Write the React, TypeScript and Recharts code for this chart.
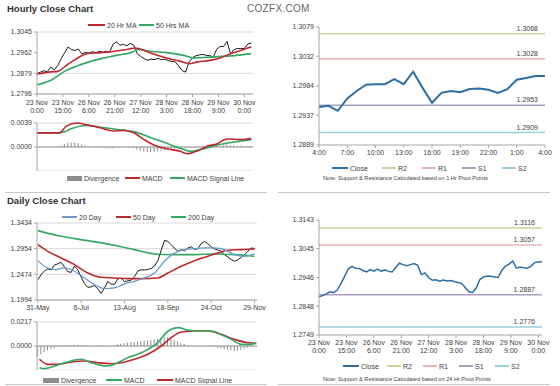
import React from 'react'
import { ComposedChart, Line, Bar, XAxis, YAxis, CartesianGrid, ReferenceLine } from 'recharts'

const FONT = '"Liberation Sans", Arial, sans-serif'
const RED = '#c0282f'
const GREEN = '#34a862'
const BLUE = '#6c9bc8'
const CLOSE_BLUE = '#2e6ea6'
const AXIS = '#a6a6a6'
const GRID = '#d9d9d9'
const TXT = '#404040'

// hourly panel (2h steps from 23 Nov 0:00)
const hourlyClose = [
  1.2878, 1.2884, 1.2889, 1.2886, 1.2904, 1.2893, 1.291, 1.2938, 1.2962, 1.2985,
  1.2974, 1.2971, 1.2976, 1.2957, 1.2963, 1.296, 1.2966, 1.2962, 1.2967, 1.2964,
  1.2968, 1.2963, 1.2996, 1.3005, 1.2992, 1.2995, 1.299, 1.2999, 1.2992, 1.2958,
  1.2947, 1.2938, 1.2931, 1.2936, 1.2934, 1.2939, 1.2934, 1.2936, 1.293, 1.2927,
  1.2925, 1.2908, 1.289, 1.2884, 1.2925, 1.2941, 1.295, 1.2953, 1.2955, 1.2951,
  1.295, 1.2944, 1.2976, 1.2987, 1.2987, 1.3007, 1.2957, 1.2974, 1.2979, 1.2978,
  1.2979, 1.2997, 1.3
]
const ma20Hours = [0, 8, 12, 17, 23, 29, 37, 44, 52, 57, 62, 67, 75, 83, 88, 93, 100, 106, 112, 118, 124]
const ma20HourValues = [1.2876, 1.2885, 1.2887, 1.2911, 1.2938, 1.2958, 1.2962, 1.2967, 1.2975, 1.2981, 1.2971, 1.2958, 1.2941, 1.2927, 1.2918, 1.2925, 1.2931, 1.2941, 1.2958, 1.2971, 1.2985]
const ma50Hours = [0, 8, 17, 27, 37, 46, 56, 58, 66, 75, 85, 91, 102, 112, 124]
const ma50HourValues = [1.2833, 1.2851, 1.2891, 1.2918, 1.2938, 1.2951, 1.2967, 1.2975, 1.2967, 1.2962, 1.2951, 1.2941, 1.2945, 1.2949, 1.2958]

const hourlyDivergence = [
  0, 0, 0, 0, 0, 0, 0.0001,
  0.0002, 0.0005, 0.0006, 0.0007, 0.0007, 0.0006, 0.0004, 0.0002, 0.0001,
  0, -0.0001, -0.0001, -0.0001, -0.0002, -0.0002, -0.0002, -0.0001, -0.0001, -0.0001, 0, -0.0001, -0.0002,
  -0.0004, -0.0006, -0.0007, -0.0008, -0.0008, -0.0008, -0.0007, -0.0006, -0.0005, -0.0004, -0.0003, -0.0003, -0.0003, -0.0003, -0.0002, -0.0001,
  0, 0, 0.0001, 0.0001, 0.0001, 0.0001, 0.0001, 0.0002, 0.0002, 0.0003, 0.0004, 0.0003, 0.0003, 0.0002, 0.0002, 0.0001, 0.0001, 0.0001
]
const macdHours = [0, 13, 17, 23, 29, 37, 44, 50, 56, 62, 67, 75, 83, 87, 93, 98, 104, 110, 118, 124]
const macdHourValues = [0.0023, 0.0023, 0.0034, 0.0039, 0.0036, 0.0031, 0.0026, 0.0027, 0.0023, 0.0012, 0.0004, -0.0003, -0.0007, -0.0011, -0.0006, 0.0001, 0.0005, 0.0013, 0.0012, 0.0014]
const signalHours = [0, 13, 21, 29, 37, 48, 56, 66, 75, 85, 89, 95, 104, 114, 124]
const signalHourValues = [0.0023, 0.0023, 0.0031, 0.0035, 0.0032, 0.0028, 0.0025, 0.0015, 0.0006, -0.0004, -0.0007, -0.0004, 0.0003, 0.0008, 0.0012]

const hourTicks = [0, 15, 30, 45, 60, 75, 90, 105, 120]
const hourTickDays = ['23 Nov', '23 Nov', '26 Nov', '26 Nov', '27 Nov', '28 Nov', '28 Nov', '29 Nov', '30 Nov']
const hourTickTimes = ['0:00', '15:00', '6:00', '21:00', '12:00', '3:00', '18:00', '9:00', '0:00']

// 1 hr pivot panel (29 Nov 4:00 -> 30 Nov 4:00)
const pivotHourClose = [1.295, 1.2952, 1.2944, 1.2964, 1.2976, 1.2986, 1.2987, 1.2987, 1.2995, 1.2987, 1.3007, 1.2981, 1.2957, 1.2973, 1.2976, 1.2974, 1.2979, 1.298, 1.2978, 1.2973, 1.2979, 1.2994, 1.2997, 1.3, 1.3]
const pivotHourTicks = [0, 3, 6, 9, 12, 15, 18, 21, 24]
const pivotHourLabels = ['4:00', '7:00', '10:00', '13:00', '16:00', '19:00', '22:00', '1:00', '4:00']
const pivotHourLevels = [1.3068, 1.3028, 1.2953, 1.2909]

// daily panel (2 trading-day steps from 31 May)
const dailyClose = [
  1.2375, 1.247, 1.254, 1.2575, 1.256, 1.265, 1.267, 1.27, 1.261, 1.2525,
  1.251, 1.263, 1.256, 1.242, 1.23, 1.223, 1.224, 1.2265, 1.22, 1.2115,
  1.222, 1.234, 1.229, 1.229, 1.239, 1.24, 1.234, 1.235, 1.2365, 1.243,
  1.2535, 1.256, 1.2555, 1.2565, 1.2585, 1.263, 1.273, 1.292, 1.311, 1.309,
  1.303, 1.296, 1.2905, 1.2935, 1.2915, 1.2965, 1.299, 1.294, 1.2955, 1.305,
  1.309, 1.3045, 1.299, 1.295, 1.293, 1.2905, 1.284, 1.28, 1.275, 1.272,
  1.2745, 1.279, 1.284, 1.2905, 1.2965, 1.296
]
const ma20Days = [0, 4, 10, 16, 22, 28, 34, 40, 46, 52, 58, 64, 70, 76, 82, 88, 94, 100, 106, 112, 118, 124, 130]
const ma20DayValues = [1.273, 1.2624, 1.2562, 1.2593, 1.2531, 1.2406, 1.2281, 1.2207, 1.2219, 1.2294, 1.2344, 1.2406, 1.2499, 1.2718, 1.2873, 1.2936, 1.2954, 1.2967, 1.2967, 1.2936, 1.2842, 1.2811, 1.2855]
const ma50Days = [0, 6, 14, 22, 30, 38, 46, 54, 62, 72, 78, 86, 94, 102, 108, 114, 122, 130]
const ma50DayValues = [1.3029, 1.2904, 1.278, 1.2655, 1.2499, 1.2418, 1.2406, 1.2394, 1.2394, 1.2406, 1.2499, 1.2624, 1.273, 1.2811, 1.2873, 1.2923, 1.2936, 1.2948]
const ma200Days = [0, 14, 30, 46, 58, 70, 82, 94, 106, 118, 130]
const ma200DayValues = [1.3291, 1.3185, 1.3104, 1.3017, 1.2936, 1.2855, 1.2842, 1.2842, 1.2855, 1.2842, 1.2811]

const dailyDivergence = [
  -0.009, -0.0075, -0.0055, -0.004, -0.0025, -0.0015, -0.0008, -0.0002, 0.0005, 0.0008,
  0.001, 0.0012, 0.001, 0.0008, 0.0004, 0.0002, -0.0003, -0.0005, -0.0006, -0.0004,
  -0.0002, 0, 0.0005, 0.001, 0.0015, 0.002, 0.0025, 0.003, 0.0033, 0.0036,
  0.004, 0.0045, 0.0048, 0.005, 0.0055, 0.006, 0.0065, 0.0075, 0.0085, 0.008,
  0.007, 0.0055, 0.004, 0.0028, 0.0018, 0.001, 0.0005, 0.0002, 0, 0,
  -0.0002, -0.0004, -0.0006, -0.001, -0.0015, -0.002, -0.0028, -0.0035, -0.004, -0.0045,
  -0.0042, -0.0035, -0.0025, -0.0015, -0.0008, 0.0003
]
const macdDays = [1, 4, 10, 16, 20, 26, 32, 38, 42, 50, 54, 60, 66, 72, 76, 80, 84, 90, 96, 104, 110, 116, 122, 128, 131]
const macdDayValues = [-0.0196, -0.0205, -0.0181, -0.0151, -0.0135, -0.012, -0.0151, -0.0175, -0.0181, -0.0135, -0.0105, -0.0075, -0.003, 0.003, 0.0105, 0.0151, 0.0166, 0.0144, 0.0135, 0.0135, 0.0105, 0.006, 0.0015, 0.0015, 0.003]
const signalDays = [1, 6, 12, 20, 28, 36, 44, 50, 58, 66, 74, 80, 86, 94, 102, 110, 118, 126, 131]
const signalDayValues = [-0.012, -0.0166, -0.0166, -0.0144, -0.0135, -0.0151, -0.016, -0.0151, -0.012, -0.0075, 0, 0.0075, 0.0126, 0.0135, 0.0135, 0.0105, 0.006, 0.003, 0.0024]

const dayTicks = [0, 26, 52, 78, 104, 130]
const dayTickLabels = ['31-May', '6-Jul', '13-Aug', '18-Sep', '24-Oct', '29-Nov']

// 24 hr pivot panel (hourly, 2h steps from 23 Nov 0:00)
const pivotDayClose = [
  1.288, 1.2884, 1.289, 1.2897, 1.2894, 1.2903, 1.2925, 1.295, 1.2975, 1.2984,
  1.2978, 1.2977, 1.297, 1.2965, 1.2973, 1.2968, 1.2975, 1.2968, 1.2972, 1.2967,
  1.2965, 1.298, 1.2995, 1.299, 1.2986, 1.299, 1.2994, 1.2988, 1.2956, 1.2962,
  1.2945, 1.2937, 1.2938, 1.2933, 1.2937, 1.2934, 1.2936, 1.2932, 1.2929, 1.2926,
  1.2912, 1.2897, 1.2895, 1.291, 1.2939, 1.2948, 1.2951, 1.295, 1.2948, 1.2946,
  1.297, 1.2985, 1.2992, 1.3003, 1.2978, 1.2982, 1.2979, 1.2978, 1.2985, 1.2997,
  1.2999, 1.3
]
const pivotDayLevels = [1.3116, 1.3057, 1.2887, 1.2776]

const levelNames = ['R2', 'R1', 'S1', 'S2']
const levelColors = ['#c8d59b', '#e3b9b7', '#aa9fbf', '#9dd0dd']

const pairs = (xs: number[], ys: number[], k: string) => xs.map((x, i) => ({ x, [k]: ys[i] }))
const fmt4 = (v: number) => v.toFixed(4)
const tickStyle = { fontSize: 7, fill: TXT, fontFamily: FONT }

const TwoLineTick = (props: any) => {
  const { x, y, payload, days, times, ticks } = props
  const i = ticks.indexOf(payload.value)
  return (
    <g>
      <text x={x} y={y} dy={5.5} textAnchor="middle" {...tickStyle}>{days[i]}</text>
      <text x={x} y={y} dy={13.5} textAnchor="middle" {...tickStyle}>{times[i]}</text>
    </g>
  )
}

const levelLabel = (text: string) => (props: any) => {
  const vb = props.viewBox
  return (
    <text x={vb.x + vb.width - 7} y={vb.y - 3} textAnchor="end" {...tickStyle}>{text}</text>
  )
}

function LegendItem({ x, y, color, label, box, w }: { x: number; y: number; color: string; label: string; box?: boolean; w: number }) {
  return (
    <div style={{ position: 'absolute', left: x, top: y - 5, height: 10, display: 'flex', alignItems: 'center', fontSize: 7, color: TXT, fontFamily: FONT, whiteSpace: 'nowrap' }}>
      <span style={{ display: 'inline-block', width: w, height: box ? 5 : 2, background: color, marginRight: 2 }} />
      {label}
    </div>
  )
}

function Rule({ x, y, w }: { x: number; y: number; w: number }) {
  return <div style={{ position: 'absolute', left: x, top: y, width: w, height: 1, background: '#c8c8c8' }} />
}

function Place({ x, y, children }: { x: number; y: number; children: React.ReactNode }) {
  return <div style={{ position: 'absolute', left: x, top: y }}>{children}</div>
}

export default function App() {
  const hourlyData = hourlyClose.map((close, i) => ({ x: i * 2, close }))
  const hourlyDivData = hourlyDivergence.map((div, i) => ({ x: i * 2, div }))
  const pivotHourData = pivotHourClose.map((close, i) => ({ x: i, close }))
  const dailyData = dailyClose.map((close, i) => ({ x: i * 2, close }))
  const dailyDivData = dailyDivergence.map((div, i) => ({ x: i * 2, div }))
  const pivotDayData = pivotDayClose.map((close, i) => ({ x: i * 2, close }))

  return (
    <div style={{ position: 'fixed', left: 0, top: 0, width: 560, height: 386, background: '#fff', fontFamily: FONT, overflow: 'hidden' }}>
      <div style={{ position: 'absolute', left: 7, top: 3, fontSize: 9.5, fontWeight: 'bold', color: '#333' }}>Hourly Close Chart</div>
      <div style={{ position: 'absolute', left: 247, top: 3, fontSize: 10, color: '#666', letterSpacing: 0.3 }}>COZFX.COM</div>
      <div style={{ position: 'absolute', left: 7, top: 195, fontSize: 9.5, fontWeight: 'bold', color: '#333' }}>Daily Close Chart</div>

      {/* hourly price */}
      <Place x={0} y={0}>
        <ComposedChart width={260} height={116} data={hourlyData} margin={{ top: 32, right: 7, bottom: 0, left: 0 }}>
          <CartesianGrid vertical={false} stroke={GRID} />
          <XAxis dataKey="x" type="number" domain={[0, 125]} ticks={hourTicks} height={22} interval={0}
            stroke={AXIS} tickSize={3} tickMargin={2}
            tick={(p: any) => <TwoLineTick {...p} days={hourTickDays} times={hourTickTimes} ticks={hourTicks} />} />
          <YAxis type="number" domain={[1.2796, 1.3045]} ticks={[1.2796, 1.2879, 1.2962, 1.3045]} width={37}
            stroke={AXIS} tickSize={3} tick={tickStyle} tickFormatter={fmt4} />
          <Line dataKey="close" stroke="#1a1a1a" strokeWidth={1} dot={false} isAnimationActive={false} />
          <Line data={pairs(ma50Hours, ma50HourValues, 'v')} dataKey="v" type="monotone" stroke={GREEN} strokeWidth={1.6} dot={false} isAnimationActive={false} />
          <Line data={pairs(ma20Hours, ma20HourValues, 'v')} dataKey="v" type="monotone" stroke={RED} strokeWidth={1.6} dot={false} isAnimationActive={false} />
        </ComposedChart>
      </Place>
      <LegendItem x={88} y={25} color={RED} label="20 Hr MA" w={17} />
      <LegendItem x={139} y={25} color={GREEN} label="50 Hrs MA" w={15} />

      {/* hourly MACD */}
      <Place x={0} y={115}>
        <ComposedChart width={260} height={56} data={hourlyDivData} margin={{ top: 8, right: 7, bottom: 0, left: 0 }}>
          <CartesianGrid vertical={false} stroke={GRID} />
          <XAxis dataKey="x" type="number" domain={[0, 125]} hide />
          <YAxis type="number" domain={[-0.0039, 0.0039]} ticks={[-0.0039, 0, 0.0039]} width={37}
            stroke={AXIS} tickSize={3} tick={tickStyle} tickFormatter={fmt4} />
          <ReferenceLine y={0} stroke="#9a9a9a" />
          <Bar dataKey="div" fill="#8c8c8c" barSize={1} isAnimationActive={false} />
          <Line data={pairs(signalHours, signalHourValues, 'v')} dataKey="v" type="monotone" stroke={GREEN} strokeWidth={1.6} dot={false} isAnimationActive={false} />
          <Line data={pairs(macdHours, macdHourValues, 'v')} dataKey="v" type="monotone" stroke={RED} strokeWidth={1.6} dot={false} isAnimationActive={false} />
        </ComposedChart>
      </Place>
      <LegendItem x={67} y={178} color="#8c8c8c" label="Divergence" box w={15} />
      <LegendItem x={125} y={178} color={RED} label="MACD" w={15} />
      <LegendItem x={170} y={178} color={GREEN} label="MACD Signal Line" w={15} />

      {/* 1 hr pivot */}
      <Place x={280} y={0}>
        <ComposedChart width={280} height={160} data={pivotHourData} margin={{ top: 27, right: 15, bottom: 0, left: 0 }}>
          <XAxis dataKey="x" type="number" domain={[0, 24]} ticks={pivotHourTicks} height={15} interval={0}
            stroke={AXIS} tickSize={3} tickMargin={2} tick={tickStyle} tickFormatter={(v: number) => pivotHourLabels[pivotHourTicks.indexOf(v)]} />
          <YAxis type="number" domain={[1.2889, 1.3079]} ticks={[1.2889, 1.2937, 1.2984, 1.3032, 1.3079]} width={39}
            stroke={AXIS} tickSize={3} tick={tickStyle} tickFormatter={fmt4} />
          {pivotHourLevels.map((v, i) => (
            <ReferenceLine key={i} y={v} stroke={levelColors[i]} strokeWidth={1.5} label={levelLabel(fmt4(v))} />
          ))}
          <Line dataKey="close" stroke={CLOSE_BLUE} strokeWidth={2} dot={false} isAnimationActive={false} />
        </ComposedChart>
      </Place>
      <LegendItem x={332} y={168} color={CLOSE_BLUE} label="Close" w={16} />
      {levelNames.map((n, i) => (
        <LegendItem key={n} x={382 + i * 40} y={168} color={levelColors[i]} label={n} w={14} />
      ))}
      <div style={{ position: 'absolute', left: 323, top: 175, fontSize: 5.6, color: TXT, whiteSpace: 'nowrap' }}>Note: Support &amp; Resistance Calculated based on 1 Hr Pivot Points</div>

      <Rule x={5} y={192} w={262} />
      <Rule x={278} y={192} w={272} />

      {/* daily price */}
      <Place x={0} y={190}>
        <ComposedChart width={272} height={124} data={dailyData} margin={{ top: 33, right: 15, bottom: 0, left: 0 }}>
          <CartesianGrid vertical={false} stroke={GRID} />
          <XAxis dataKey="x" type="number" domain={[-0.5, 131.5]} ticks={dayTicks} height={14} interval={0}
            stroke={AXIS} tickSize={3} tickMargin={2} tick={tickStyle} tickFormatter={(v: number) => dayTickLabels[dayTicks.indexOf(v)]} />
          <YAxis type="number" domain={[1.1994, 1.3434]} ticks={[1.1994, 1.2474, 1.2954, 1.3434]} width={37}
            stroke={AXIS} tickSize={3} tick={tickStyle} tickFormatter={fmt4} />
          <Line dataKey="close" stroke="#1a1a1a" strokeWidth={1} dot={false} isAnimationActive={false} />
          <Line data={pairs(ma200Days, ma200DayValues, 'v')} dataKey="v" type="monotone" stroke={GREEN} strokeWidth={1.6} dot={false} isAnimationActive={false} />
          <Line data={pairs(ma50Days, ma50DayValues, 'v')} dataKey="v" type="monotone" stroke={RED} strokeWidth={1.6} dot={false} isAnimationActive={false} />
          <Line data={pairs(ma20Days, ma20DayValues, 'v')} dataKey="v" type="monotone" stroke={BLUE} strokeWidth={1.3} dot={false} isAnimationActive={false} />
        </ComposedChart>
      </Place>
      <LegendItem x={62} y={217} color={BLUE} label="20 Day" w={15} />
      <LegendItem x={116} y={217} color={RED} label="50 Day" w={15} />
      <LegendItem x={171} y={217} color={GREEN} label="200 Day" w={15} />

      {/* daily MACD */}
      <Place x={0} y={310}>
        <ComposedChart width={272} height={60} data={dailyDivData} margin={{ top: 12, right: 15, bottom: 0, left: 0 }}>
          <CartesianGrid vertical={false} stroke={GRID} />
          <XAxis dataKey="x" type="number" domain={[-0.5, 131.5]} hide />
          <YAxis type="number" domain={[-0.0217, 0.0217]} ticks={[-0.0217, 0, 0.0217]} width={37}
            stroke={AXIS} tickSize={3} tick={tickStyle} tickFormatter={fmt4} />
          <ReferenceLine y={0} stroke="#9a9a9a" />
          <Bar dataKey="div" fill="#8c8c8c" barSize={1} isAnimationActive={false} />
          <Line data={pairs(signalDays, signalDayValues, 'v')} dataKey="v" type="monotone" stroke={RED} strokeWidth={1.6} dot={false} isAnimationActive={false} />
          <Line data={pairs(macdDays, macdDayValues, 'v')} dataKey="v" type="monotone" stroke={GREEN} strokeWidth={1.6} dot={false} isAnimationActive={false} />
        </ComposedChart>
      </Place>
      <LegendItem x={43} y={380} color="#8c8c8c" label="Divergence" box w={16} />
      <LegendItem x={106} y={380} color={GREEN} label="MACD" w={16} />
      <LegendItem x={157} y={380} color={RED} label="MACD Signal Line" w={16} />

      {/* 24 hr pivot */}
      <Place x={280} y={190}>
        <ComposedChart width={280} height={165} data={pivotDayData} margin={{ top: 30, right: 18, bottom: 0, left: 0 }}>
          <XAxis dataKey="x" type="number" domain={[0, 122]} ticks={hourTicks} height={20} interval={0}
            stroke={AXIS} tickSize={3} tickMargin={1}
            tick={(p: any) => <TwoLineTick {...p} days={hourTickDays} times={hourTickTimes} ticks={hourTicks} />} />
          <YAxis type="number" domain={[1.2749, 1.3143]} ticks={[1.2749, 1.2848, 1.2946, 1.3045, 1.3143]} width={39}
            stroke={AXIS} tickSize={3} tick={tickStyle} tickFormatter={fmt4} />
          {pivotDayLevels.map((v, i) => (
            <ReferenceLine key={i} y={v} stroke={levelColors[i]} strokeWidth={1.5} label={levelLabel(fmt4(v))} />
          ))}
          <Line dataKey="close" stroke={CLOSE_BLUE} strokeWidth={1.5} dot={false} isAnimationActive={false} />
        </ComposedChart>
      </Place>
      <LegendItem x={343} y={366} color={CLOSE_BLUE} label="Close" w={16} />
      {levelNames.map((n, i) => (
        <LegendItem key={n} x={387 + i * 36} y={366} color={levelColors[i]} label={n} w={14} />
      ))}
      <div style={{ position: 'absolute', left: 323, top: 376, fontSize: 5.6, color: TXT, whiteSpace: 'nowrap' }}>Note: Support &amp; Resistance Calculated based on 24 Hr Pivot Points</div>

      <Rule x={5} y={384} w={262} />
      <Rule x={278} y={384} w={272} />
    </div>
  )
}
